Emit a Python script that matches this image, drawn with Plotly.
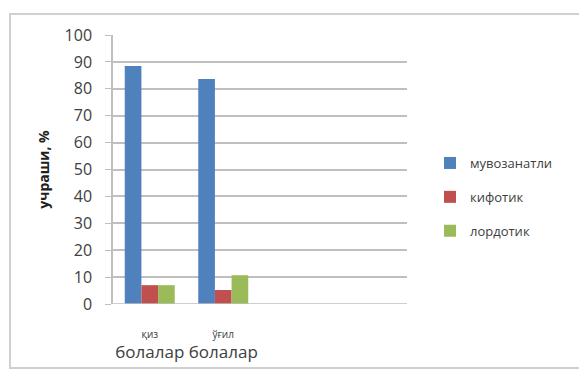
import plotly.graph_objects as go

# Occurrence of posture types among girls and boys, %
groups = ["қиз", "ўғил"]
group_suffix = "болалар"
series_names = ["мувозанатли", "кифотик", "лордотик"]
balanced = [88.5, 83.6]
kyphotic = [7.0, 5.2]
lordotic = [7.0, 10.7]
series_colors = ["#4F81BD", "#C0504D", "#9BBB59"]
y_ticks = [0, 10, 20, 30, 40, 50, 60, 70, 80, 90, 100]

W, H = 579, 374
L, R, T, B = 113, 172, 35, 70
pw, ph = W - L - R, H - T - B

font = "Open Sans, Liberation Sans, sans-serif"
positions = list(range(len(groups)))

fig = go.Figure()
for i, (name, vals, col) in enumerate(zip(series_names, [balanced, kyphotic, lordotic], series_colors)):
    fig.add_trace(go.Bar(
        x=positions, y=vals, name=name, marker=dict(color=col, line=dict(width=0)),
        legendgroup=f"g{i}",
    ))

ticktext = [
    f"<span style='font-size:10px'>{g}</span><br><span style='font-size:17px'>{group_suffix}</span>"
    for g in groups
]

fig.update_layout(
    width=W, height=H,
    margin=dict(l=L, r=R, t=T, b=B, pad=0),
    paper_bgcolor="white", plot_bgcolor="white",
    barmode="group", bargap=0.32, bargroupgap=0,
    font=dict(family=font, color="#404040", size=15),
    showlegend=True,
    legend=dict(
        x=(430 - L) / pw, y=(304 - 148) / ph, xanchor="left", yanchor="top",
        font=dict(size=13, color="#404040"), tracegroupgap=14,
        bgcolor="rgba(0,0,0,0)", itemwidth=30,
    ),
    xaxis=dict(
        range=[-0.5, 3.5], tickvals=positions, ticktext=ticktext,
        showgrid=False, zeroline=False, showline=False,
        ticks="", ticklabelstandoff=18, fixedrange=True,
    ),
    yaxis=dict(
        range=[0, 100], tickvals=y_ticks, showgrid=True, gridcolor="#BFBFBF", gridwidth=1.5,
        zeroline=False, showline=True, linecolor="#BFBFBF", linewidth=1.5,
        ticks="outside", ticklen=6, tickcolor="#BFBFBF", ticklabelstandoff=10,
        tickfont=dict(size=16, color="#404040"),
        title=dict(text="<b>учраши, %</b>", font=dict(size=14, color="#202020"), standoff=12),
    ),
    shapes=[
        # baseline
        dict(type="line", xref="paper", yref="y", x0=0, x1=1, y0=0, y1=0,
             line=dict(color="#BFBFBF", width=1.5)),
        # chart border
        dict(type="rect", xref="paper", yref="paper",
             x0=(10 - L) / pw, x1=(590 - L) / pw,
             y0=(304 - 368) / ph, y1=(304 - 14) / ph,
             line=dict(color="#D0D0D0", width=2)),
    ],
)

fig.write_html("out.html")
